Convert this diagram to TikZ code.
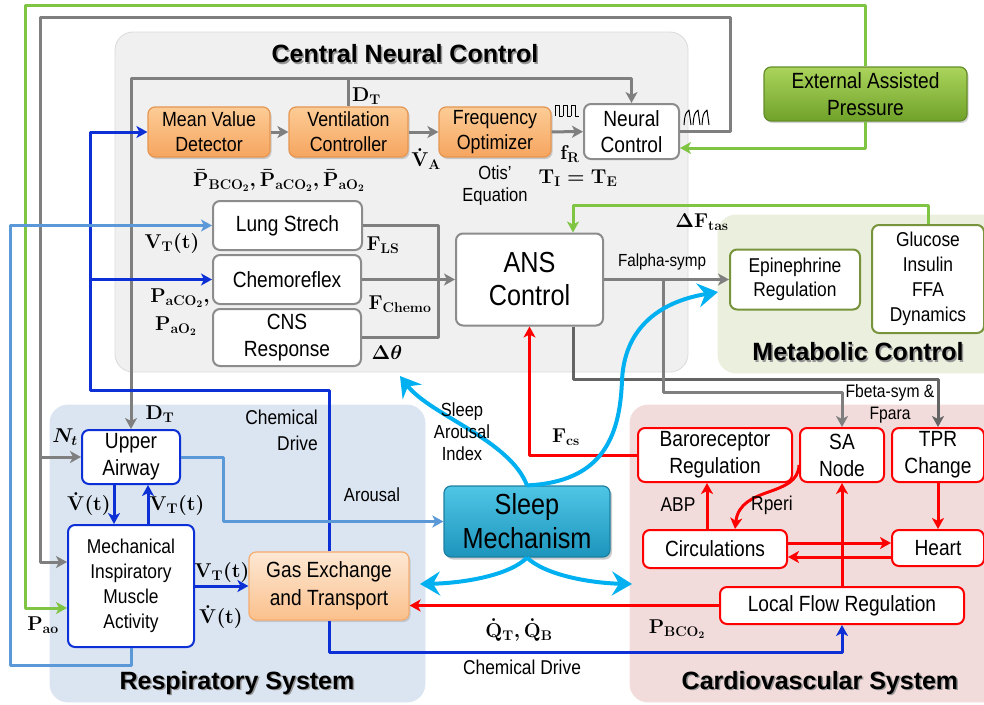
\RequirePackage{fix-cm}
\documentclass[tikz,border=0pt]{standalone}
\usepackage{fontspec}
\setmainfont{Liberation Sans}[FakeStretch=0.87]
\newfontfamily\titlefont{Liberation Sans}
\usetikzlibrary{arrows.meta,shadows}

\definecolor{linegray}{RGB}{127,127,127}
\definecolor{darkline}{RGB}{100,100,100}
\definecolor{chemblue}{RGB}{12,48,214}
\definecolor{lightblue}{RGB}{91,152,216}
\definecolor{assistgreen}{RGB}{128,196,68}
\definecolor{sleepcyan}{RGB}{0,176,240}
\definecolor{cncfill}{RGB}{240,240,240}
\definecolor{cncedge}{RGB}{218,218,218}
\definecolor{metfill}{RGB}{235,239,222}
\definecolor{resfill}{RGB}{219,229,241}
\definecolor{cvfill}{RGB}{242,220,219}
\definecolor{boxgray}{RGB}{140,140,140}
\definecolor{metgreen}{RGB}{119,147,60}
\definecolor{orangetop}{RGB}{252,204,150}
\definecolor{orangebot}{RGB}{246,165,95}
\definecolor{orangeedge}{RGB}{228,150,82}
\definecolor{gastop}{RGB}{253,232,212}
\definecolor{gasbot}{RGB}{251,192,140}
\definecolor{gasedge}{RGB}{245,172,112}
\definecolor{sleeptop}{RGB}{80,198,230}
\definecolor{sleepbot}{RGB}{28,148,188}
\definecolor{sleepedge}{RGB}{30,128,160}
\definecolor{eaptop}{RGB}{170,212,92}
\definecolor{eapbot}{RGB}{112,162,42}
\definecolor{eapedge}{RGB}{100,140,40}
\definecolor{shadowgray}{RGB}{150,150,150}

\tikzset{
  region/.style={rounded corners=18pt, line width=0.8pt},
  titletext/.style={font=\titlefont\bfseries\fontsize{25}{28}\selectfont, inner sep=0pt},
  box/.style={rounded corners=7pt, line width=2pt, inner sep=0pt, align=center, fill=white},
  whitebox/.style={box, draw=boxgray, font=\fontsize{22}{26}\selectfont},
  bluebox/.style={box, draw=chemblue, font=\fontsize{22}{27}\selectfont},
  redbox/.style={box, draw=red, font=\fontsize{22}{27}\selectfont},
  greenbox/.style={box, draw=metgreen, font=\fontsize{20}{24}\selectfont},
  orangebox/.style={box, line width=1.2pt, draw=orangeedge, top color=orangetop,
    bottom color=orangebot, font=\fontsize{20.5}{25}\selectfont,
    drop shadow={shadow xshift=1.5pt, shadow yshift=-2pt, opacity=0.35}},
  mlabel/.style={inner sep=1pt, font=\fontsize{20}{22}\selectfont\boldmath},
  tlabel/.style={inner sep=1pt, align=center, font=\fontsize{19}{22}\selectfont},
  conn/.style={line width=3pt},
  grayarr/.style={conn, draw=linegray, -{Stealth[length=11pt,width=12pt,inset=3pt]}},
  darkarr/.style={conn, draw=darkline, -{Stealth[length=11pt,width=12pt,inset=3pt]}},
  bluearr/.style={conn, draw=chemblue, -{Stealth[length=11pt,width=12pt,inset=3pt]}},
  lbluearr/.style={conn, draw=lightblue, -{Stealth[length=11pt,width=12pt,inset=3pt]}},
  greenarr/.style={conn, draw=assistgreen, -{Stealth[length=11pt,width=12pt,inset=3pt]}},
  redarr/.style={conn, draw=red, -{Stealth[length=11pt,width=12pt,inset=3pt]}},
  sleeparr/.style={draw=sleepcyan, line width=4pt, -{Stealth[length=20pt,width=24pt,inset=7pt]}},
  wave/.style={line width=1pt, black}
}

\begin{document}
\begin{tikzpicture}[x=1pt, y=-1pt, line join=round]
\useasboundingbox (0,0) rectangle (984,704);

% regions
\filldraw[region, fill=cncfill, draw=cncedge] (115,32) rectangle (688,372);
\filldraw[region, fill=metfill, draw=metfill] (718,215) rectangle (1010,373);
\filldraw[region, fill=resfill, draw=resfill] (50,405) rectangle (425,702);
\filldraw[region, fill=cvfill, draw=cvfill] (630,405) rectangle (1010,702);

\node[titletext, text=shadowgray] (cnc-sh) at (406.5,55.5) {Central Neural Control};
\node[titletext] (cnc-title) at (405,54) {Central Neural Control};
\node[titletext, text=shadowgray] (met-sh) at (859.5,353.5) {Metabolic Control};
\node[titletext] (met-title) at (858,352) {Metabolic Control};
\node[titletext, text=shadowgray] (res-sh) at (238.5,684.5) {Respiratory System};
\node[titletext] (res-title) at (237,683) {Respiratory System};
\node[titletext, text=shadowgray] (cv-sh) at (821.5,684.5) {Cardiovascular System};
\node[titletext] (cv-title) at (820,683) {Cardiovascular System};

% central neural control
\node[orangebox, minimum width=122pt, minimum height=50pt] (mvd) at (209,132) {Mean Value\\Detector};
\node[orangebox, minimum width=119pt, minimum height=50pt] (vc) at (348.5,132) {Ventilation\\Controller};
\node[orangebox, minimum width=112pt, minimum height=50pt] (fo) at (495,132) {Frequency\\Optimizer};
\node[whitebox, minimum width=95pt, minimum height=55pt] (nc) at (631.5,131.5) {Neural\\Control};
\node[box, line width=1.2pt, draw=eapedge, top color=eaptop, bottom color=eapbot,
  font=\fontsize{22}{27}\selectfont, minimum width=203pt, minimum height=54pt,
  drop shadow={shadow xshift=1.5pt, shadow yshift=-2pt, opacity=0.35}] (eap) at (865.5,94) {External Assisted\\Pressure};
\node[whitebox, minimum width=149pt, minimum height=49pt] (ls) at (287.5,225.5) {Lung Strech};
\node[whitebox, minimum width=148pt, minimum height=49pt] (chemo) at (287,279.5) {Chemoreflex};
\node[whitebox, minimum width=148pt, minimum height=57pt, font=\fontsize{22}{27}\selectfont] (cns) at (287,337.5) {CNS\\Response};
\node[whitebox, minimum width=147pt, minimum height=92pt, font=\fontsize{29}{33}\selectfont] (ans) at (529.5,279.5) {ANS\\Control};

% metabolic control
\node[greenbox, minimum width=130pt, minimum height=60pt] (epi) at (795,279.5) {Epinephrine\\Regulation};
\node[greenbox, minimum width=112pt, minimum height=108pt, font=\fontsize{20}{25}\selectfont] (gifd) at (928,279) {Glucose\\Insulin\\FFA\\Dynamics};

% respiratory system
\node[bluebox, minimum width=98pt, minimum height=54pt] (ua) at (131,457) {Upper\\Airway};
\node[bluebox, minimum width=126pt, minimum height=122pt, font=\fontsize{20}{25}\selectfont] (mima) at (131,586) {Mechanical\\Inspiratory\\Muscle\\Activity};
\node[box, line width=1.2pt, draw=gasedge, top color=gastop, bottom color=gasbot,
  font=\fontsize{22}{28}\selectfont, minimum width=160pt, minimum height=68pt,
  drop shadow={shadow xshift=1.5pt, shadow yshift=-2pt, opacity=0.3}] (get) at (329,586) {Gas Exchange\\and Transport};

% sleep
\node[box, line width=1.2pt, draw=sleepedge, top color=sleeptop, bottom color=sleepbot,
  font=\fontsize{29}{34}\selectfont, minimum width=166pt, minimum height=71pt,
  drop shadow={shadow xshift=2pt, shadow yshift=-2.5pt, opacity=0.4}] (sm) at (527,521.5) {Sleep\\Mechanism};

% cardiovascular system
\node[redbox, minimum width=154pt, minimum height=54pt] (br) at (715,455) {Baroreceptor\\Regulation};
\node[redbox, minimum width=84pt, minimum height=54pt] (sa) at (842,455) {SA\\Node};
\node[redbox, minimum width=92pt, minimum height=54pt] (tpr) at (938,455) {TPR\\Change};
\node[redbox, minimum width=144pt, minimum height=38pt] (circ) at (715,549) {Circulations};
\node[redbox, minimum width=92pt, minimum height=36pt] (heart) at (938,548) {Heart};
\node[redbox, minimum width=244pt, minimum height=37pt] (lfr) at (842,605.5) {Local Flow Regulation};

% gray neural lines
\coordinate (dt) at (348.5,78);
\draw[grayarr] (mvd) -- (vc);
\draw[grayarr] (vc) -- (fo);
\draw[grayarr] (fo) -- (nc);
\draw[conn, draw=linegray] (vc.north) -- (dt);
\draw[grayarr] (dt) -| (ua.north);
\draw[grayarr] (dt) -| (nc.north);
\draw[grayarr] (nc.east) -| (730,17) -| (40,562) -- (mima.west |- 0,562);
\draw[grayarr] (40,457) -- (ua.west);
\draw[conn, draw=linegray] (ls.east) -- (438,225.5) -- (438,337.5) -- (cns.east);
\draw[grayarr] (chemo.east) -- (ans.west);
\draw[grayarr] (ans.east) -- (epi.west);
\draw[darkarr] (ans.south -| 573,0) |- (938,379) -- (tpr.north);
\draw[grayarr] (663,279.5) |- (842,392) -- (sa.north);

% waveforms
\foreach \i in {0,1,2}
  \draw[wave] (555+8*\i,116) -- ++(0,-11) -- ++(4,0) -- ++(0,11) -- ++(4,0);
\foreach \i in {0,1,2}
  \draw[wave] (684+9*\i,125) .. controls (685+9*\i,114) .. (689+9*\i,110) -- (691+9*\i,125);

% green lines
\draw[greenarr] (eap.north) |- (25,5) -- (25,608) -- (mima.west |- 0,608);
\draw[greenarr] (eap.south) |- (nc.east |- 0,148);
\draw[greenarr] (gifd.north) |- (573,205) -- (ans.north -| 573,0);

% blue lines
\draw[bluearr] (get.north) |- (90,390) |- (mvd.west);
\draw[bluearr] (90,279.5) -- (chemo.west);
\draw[bluearr] (get.south) |- (842,652) -- (lfr.south);
\draw[bluearr] (ua.south -| 114,0) -- (mima.north -| 114,0);
\draw[bluearr] (mima.north -| 148,0) -- (ua.south -| 148,0);
\draw[bluearr] (mima.east) -- (get.west);
\draw[lbluearr] (ua.east) -| (223,521.5) -- (sm.west);
\draw[lbluearr] (mima.south) |- (10,665) |- (ls.west);

% red lines
\draw[redarr] (br.west) -| (ans.south);
\draw[redarr] (circ.north -| 707,0) -- (br.south -| 707,0);
\draw[redarr] (sa.west |- 0,465) .. controls (798,498) and (740,485) .. (circ.north -| 735,0);
\draw[redarr] (tpr.south) -- (heart.north);
\draw[redarr] (circ.east |- 0,543) -- (heart.west |- 0,543);
\draw[redarr] (heart.west |- 0,557) -- (circ.east |- 0,557);
\draw[redarr] (lfr.north) -- (sa.south);
\draw[redarr] (lfr.west) -- (get.east |- lfr.west);

% sleep influences
\draw[sleeparr] (sm.north) .. controls (510,440) and (430,415) .. (400,376);
\draw[sleeparr] (sm.north) .. controls (600,482) and (620,440) .. (622,380)
  .. controls (625,320) and (670,300) .. (718,292);
\draw[sleeparr] (sm.south) .. controls (510,575) and (465,583) .. (420,584);
\draw[sleeparr] (sm.south) .. controls (545,575) and (590,583) .. (632,584);

% labels
\node[mlabel, anchor=west] (l-dt1) at (351,96) {$\mathbf{D_T}$};
\node[mlabel] (l-pbar) at (279,181) {$\bar{\mathbf P}_{\mathbf{BCO_2}}, \bar{\mathbf P}_{\mathbf{aCO_2}}, \bar{\mathbf P}_{\mathbf{aO_2}}$};
\node[mlabel] (l-va) at (426,159) {$\dot{\mathbf V}_{\mathbf A}$};
\node[tlabel] (l-otis) at (495,186) {Otis’\\Equation};
\node[mlabel] (l-fr) at (570,154) {$\mathbf{f_R}$};
\node[mlabel] (l-ti) at (578,178) {$\mathbf{T_I = T_E}$};
\node[mlabel] (l-vt1) at (172,243) {$\mathbf{V_T(t)}$};
\node[mlabel] (l-pa1) at (180,298) {$\mathbf{P_{aCO_2}},$};
\node[mlabel] (l-pa2) at (176,326) {$\mathbf{P_{aO_2}}$};
\node[mlabel] (l-fls) at (383,245) {$\mathbf{F_{LS}}$};
\node[mlabel] (l-fch) at (400,304) {$\mathbf{F_{Chemo}}$};
\node[mlabel] (l-dth) at (387,353) {$\Delta\theta$};
\node[tlabel, font=\fontsize{17.5}{20}\selectfont] (l-falpha) at (662,262) {Falpha-symp};
\node[mlabel] (l-dftas) at (702,222) {$\Delta\mathbf{F_{tas}}$};
\node[tlabel, font=\fontsize{18}{22}\selectfont] (l-fbeta) at (890,404) {Fbeta-sym \&\\Fpara};
\node[mlabel] (l-dt2) at (160,414) {$\mathbf{D_T}$};
\node[mlabel] (l-nt) at (65,437) {$N_t$};
\node[tlabel, align=right, font=\fontsize{20}{26}\selectfont, anchor=east] (l-chem1) at (319,430) {Chemical\\Drive};
\node[mlabel] (l-vdot1) at (89,504) {$\dot{\mathbf V}\mathbf{(t)}$};
\node[mlabel] (l-vt2) at (177,505) {$\mathbf{V_T(t)}$};
\node[mlabel] (l-vt3) at (222,572) {$\mathbf{V_T(t)}$};
\node[mlabel] (l-vdot2) at (221,617) {$\dot{\mathbf V}\mathbf{(t)}$};
\node[mlabel] (l-pao) at (43,625) {$\mathbf{P_{ao}}$};
\node[tlabel] (l-arousal) at (372,495) {Arousal};
\node[tlabel] (l-sai) at (462,432) {Sleep\\Arousal\\Index};
\node[mlabel] (l-fcs) at (566,437) {$\mathbf{F_{cs}}$};
\node[tlabel, font=\fontsize{20}{22}\selectfont] (l-abp) at (678,505) {ABP};
\node[tlabel, font=\fontsize{20}{22}\selectfont] (l-rperi) at (772,505) {Rperi};
\node[mlabel] (l-qdot) at (519,630) {$\dot{\mathbf Q}_{\mathbf T}, \dot{\mathbf Q}_{\mathbf B}$};
\node[mlabel] (l-pbco) at (677,629) {$\mathbf{P_{BCO_2}}$};
\node[tlabel, font=\fontsize{20}{22}\selectfont] (l-chem2) at (522,667) {Chemical Drive};
\end{tikzpicture}
\end{document}
